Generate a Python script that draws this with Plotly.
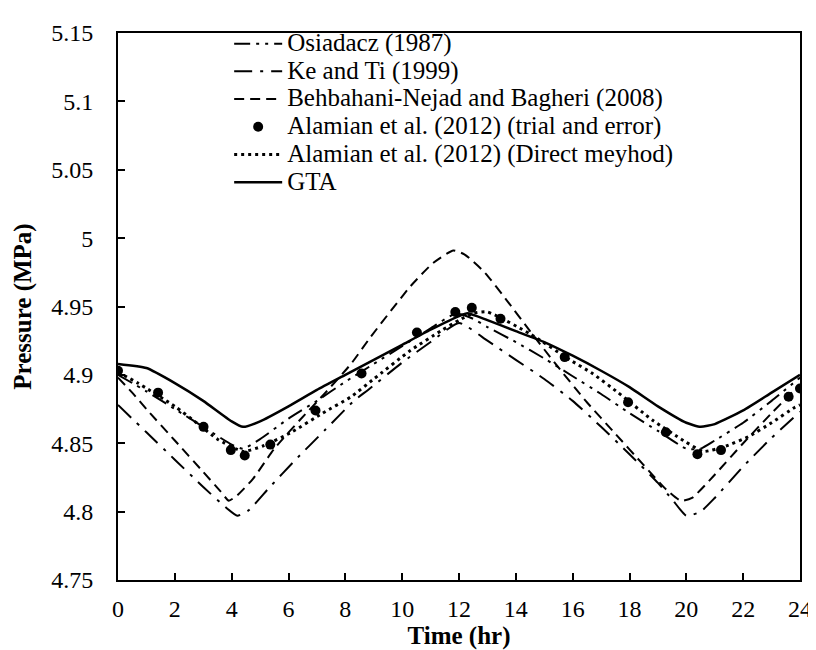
import plotly.graph_objects as go

# ---- data ----
osi_t = [0, 1, 2, 3, 4, 4.4, 5, 6, 7, 8, 9, 10, 11, 11.9, 12.5, 13, 14, 15, 16, 17, 18, 19, 20, 20.5, 21, 22, 23, 24]
osi_p = [4.900, 4.888, 4.875, 4.862, 4.849, 4.846, 4.853, 4.868, 4.881, 4.895, 4.908, 4.921, 4.934, 4.945, 4.941,
         4.935, 4.924, 4.912, 4.899, 4.886, 4.872, 4.859, 4.846, 4.846, 4.852, 4.865, 4.881, 4.898]

ke_t = [0, 1, 2, 3, 3.8, 4.2, 4.6, 5.3, 6.25, 7.3, 8.3, 8.8, 10, 11, 12, 13, 14, 15, 16, 17, 18, 19, 19.5, 20, 20.5, 21, 22, 23, 24]
ke_p = [4.878, 4.858, 4.838, 4.818, 4.803, 4.797, 4.801, 4.817, 4.838, 4.860, 4.881, 4.889, 4.909, 4.924, 4.938,
        4.925, 4.911, 4.897, 4.881, 4.862, 4.842, 4.821, 4.809, 4.797, 4.800, 4.810, 4.833, 4.854, 4.873]

beh_t = [0, 0.5, 1, 2, 3, 3.6, 3.9, 4.2, 4.75, 5.5, 6.4, 7.3, 8.2, 8.9, 10.3, 11.1, 11.8, 12.2, 12.9, 13.7, 14.5,
         15.4, 16.5, 17.5, 18.5, 19.3, 19.8, 20.2, 21, 22, 23, 24]
beh_p = [4.898, 4.887, 4.875, 4.852, 4.829, 4.815, 4.808, 4.812, 4.824, 4.846, 4.867, 4.887, 4.908, 4.928, 4.965,
         4.982, 4.991, 4.988, 4.975, 4.954, 4.932, 4.908, 4.880, 4.857, 4.834, 4.816, 4.808, 4.810, 4.827, 4.850,
         4.872, 4.893]

ala_trial_t = [0, 1.41, 3.01, 3.97, 4.46, 5.36, 6.95, 8.57, 10.52, 11.87, 12.45, 13.46, 15.72, 17.95, 19.28, 20.39,
               21.22, 23.6, 24.0]
ala_trial_p = [4.903, 4.887, 4.862, 4.845, 4.841, 4.849, 4.874, 4.901, 4.931, 4.946, 4.949, 4.941, 4.913, 4.880,
               4.858, 4.842, 4.845, 4.884, 4.890]

ala_direct_t = [0, 0.7, 2, 2.7, 3.5, 4.4, 5.1, 6.1, 7.2, 8.2, 9.0, 10.3, 11.35, 12.0, 12.5, 13.0, 14.5, 15.9, 16.7,
                17.6, 18.8, 19.9, 20.6, 21.4, 22.2, 23.0, 23.8, 24]
ala_direct_p = [4.902, 4.894, 4.877, 4.866, 4.853, 4.844, 4.848, 4.858, 4.872, 4.884, 4.897, 4.918, 4.932, 4.940,
                4.945, 4.946, 4.930, 4.911, 4.901, 4.887, 4.867, 4.852, 4.844, 4.848, 4.855, 4.865, 4.876, 4.878]

gta_t = [0, 1, 2, 3, 4, 4.4, 5, 6, 7, 8, 9, 10, 11, 12, 12.3, 13, 14, 15, 16, 17, 18, 19, 20, 20.5, 21, 22, 23, 24]
gta_p = [4.908, 4.905, 4.894, 4.881, 4.866, 4.862, 4.866, 4.877, 4.889, 4.900, 4.911, 4.922, 4.933, 4.943, 4.945,
         4.940, 4.932, 4.924, 4.914, 4.903, 4.891, 4.877, 4.865, 4.862, 4.864, 4.874, 4.887, 4.900]

x_ticks = [0, 2, 4, 6, 8, 10, 12, 14, 16, 18, 20, 22, 24]
y_ticks = [4.75, 4.8, 4.85, 4.9, 4.95, 5.0, 5.05, 5.1, 5.15]
y_tick_text = ["4.75", "4.8", "4.85", "4.9", "4.95", "5", "5.05", "5.1", "5.15"]

FONT = "Liberation Serif"


def lg(name):
    # legend label rendered larger than the legend row pitch
    return '<span style="font-size:25px">' + name + '</span>'


fig = go.Figure()
fig.add_trace(go.Scatter(x=osi_t, y=osi_p, mode="lines", name=lg("Osiadacz (1987)"),
                         line=dict(color="black", width=2, dash="16px,6px,3px,6px,3px,6px",
                                   shape="spline", smoothing=0.5)))
fig.add_trace(go.Scatter(x=ke_t, y=ke_p, mode="lines", name=lg("Ke and Ti (1999)"),
                         line=dict(color="black", width=2, dash="18px,8px,3px,8px",
                                   shape="spline", smoothing=0.5)))
fig.add_trace(go.Scatter(x=beh_t, y=beh_p, mode="lines", name=lg("Behbahani-Nejad and Bagheri (2008)"),
                         line=dict(color="black", width=2, dash="10px,6px",
                                   shape="spline", smoothing=0.5)))
fig.add_trace(go.Scatter(x=ala_trial_t, y=ala_trial_p, mode="markers",
                         name=lg("Alamian et al. (2012) (trial and error)"),
                         marker=dict(color="black", size=10, symbol="circle")))
fig.add_trace(go.Scatter(x=ala_direct_t, y=ala_direct_p, mode="lines",
                         name=lg("Alamian et al. (2012) (Direct meyhod)"),
                         line=dict(color="black", width=3, dash="3px,4px",
                                   shape="spline", smoothing=0.5)))
fig.add_trace(go.Scatter(x=gta_t, y=gta_p, mode="lines", name=lg("GTA"),
                         line=dict(color="black", width=2.5, shape="spline", smoothing=0.5)))

axis_common = dict(showline=True, linecolor="black", linewidth=2, mirror=True,
                   ticks="inside", ticklen=7, tickwidth=1.5, tickcolor="black",
                   showgrid=False, zeroline=False,
                   tickfont=dict(family=FONT, size=24, color="black"))

fig.update_xaxes(range=[0, 24], tickvals=x_ticks,
                 title=dict(text="<b>Time (hr)</b>", font=dict(family=FONT, size=25, color="black"), standoff=4),
                 ticklabelstandoff=6, **axis_common)
fig.update_yaxes(range=[4.75, 5.15], tickvals=y_ticks, ticktext=y_tick_text,
                 title=dict(text="<b>Pressure (MPa)</b>", font=dict(family=FONT, size=25, color="black"), standoff=12),
                 ticklabelstandoff=18, **axis_common)

fig.update_layout(
    width=816, height=650,
    margin=dict(l=110, r=15, t=19, b=78),
    plot_bgcolor="white", paper_bgcolor="white",
    font=dict(family=FONT, size=24, color="black"),
    showlegend=True,
    legend=dict(x=0.163, y=1.015, xanchor="left", yanchor="top",
                bgcolor="rgba(0,0,0,0)", borderwidth=0,
                font=dict(family=FONT, size=19, color="black"),
                tracegroupgap=0, itemwidth=48),
)

fig.write_html("out.html")
